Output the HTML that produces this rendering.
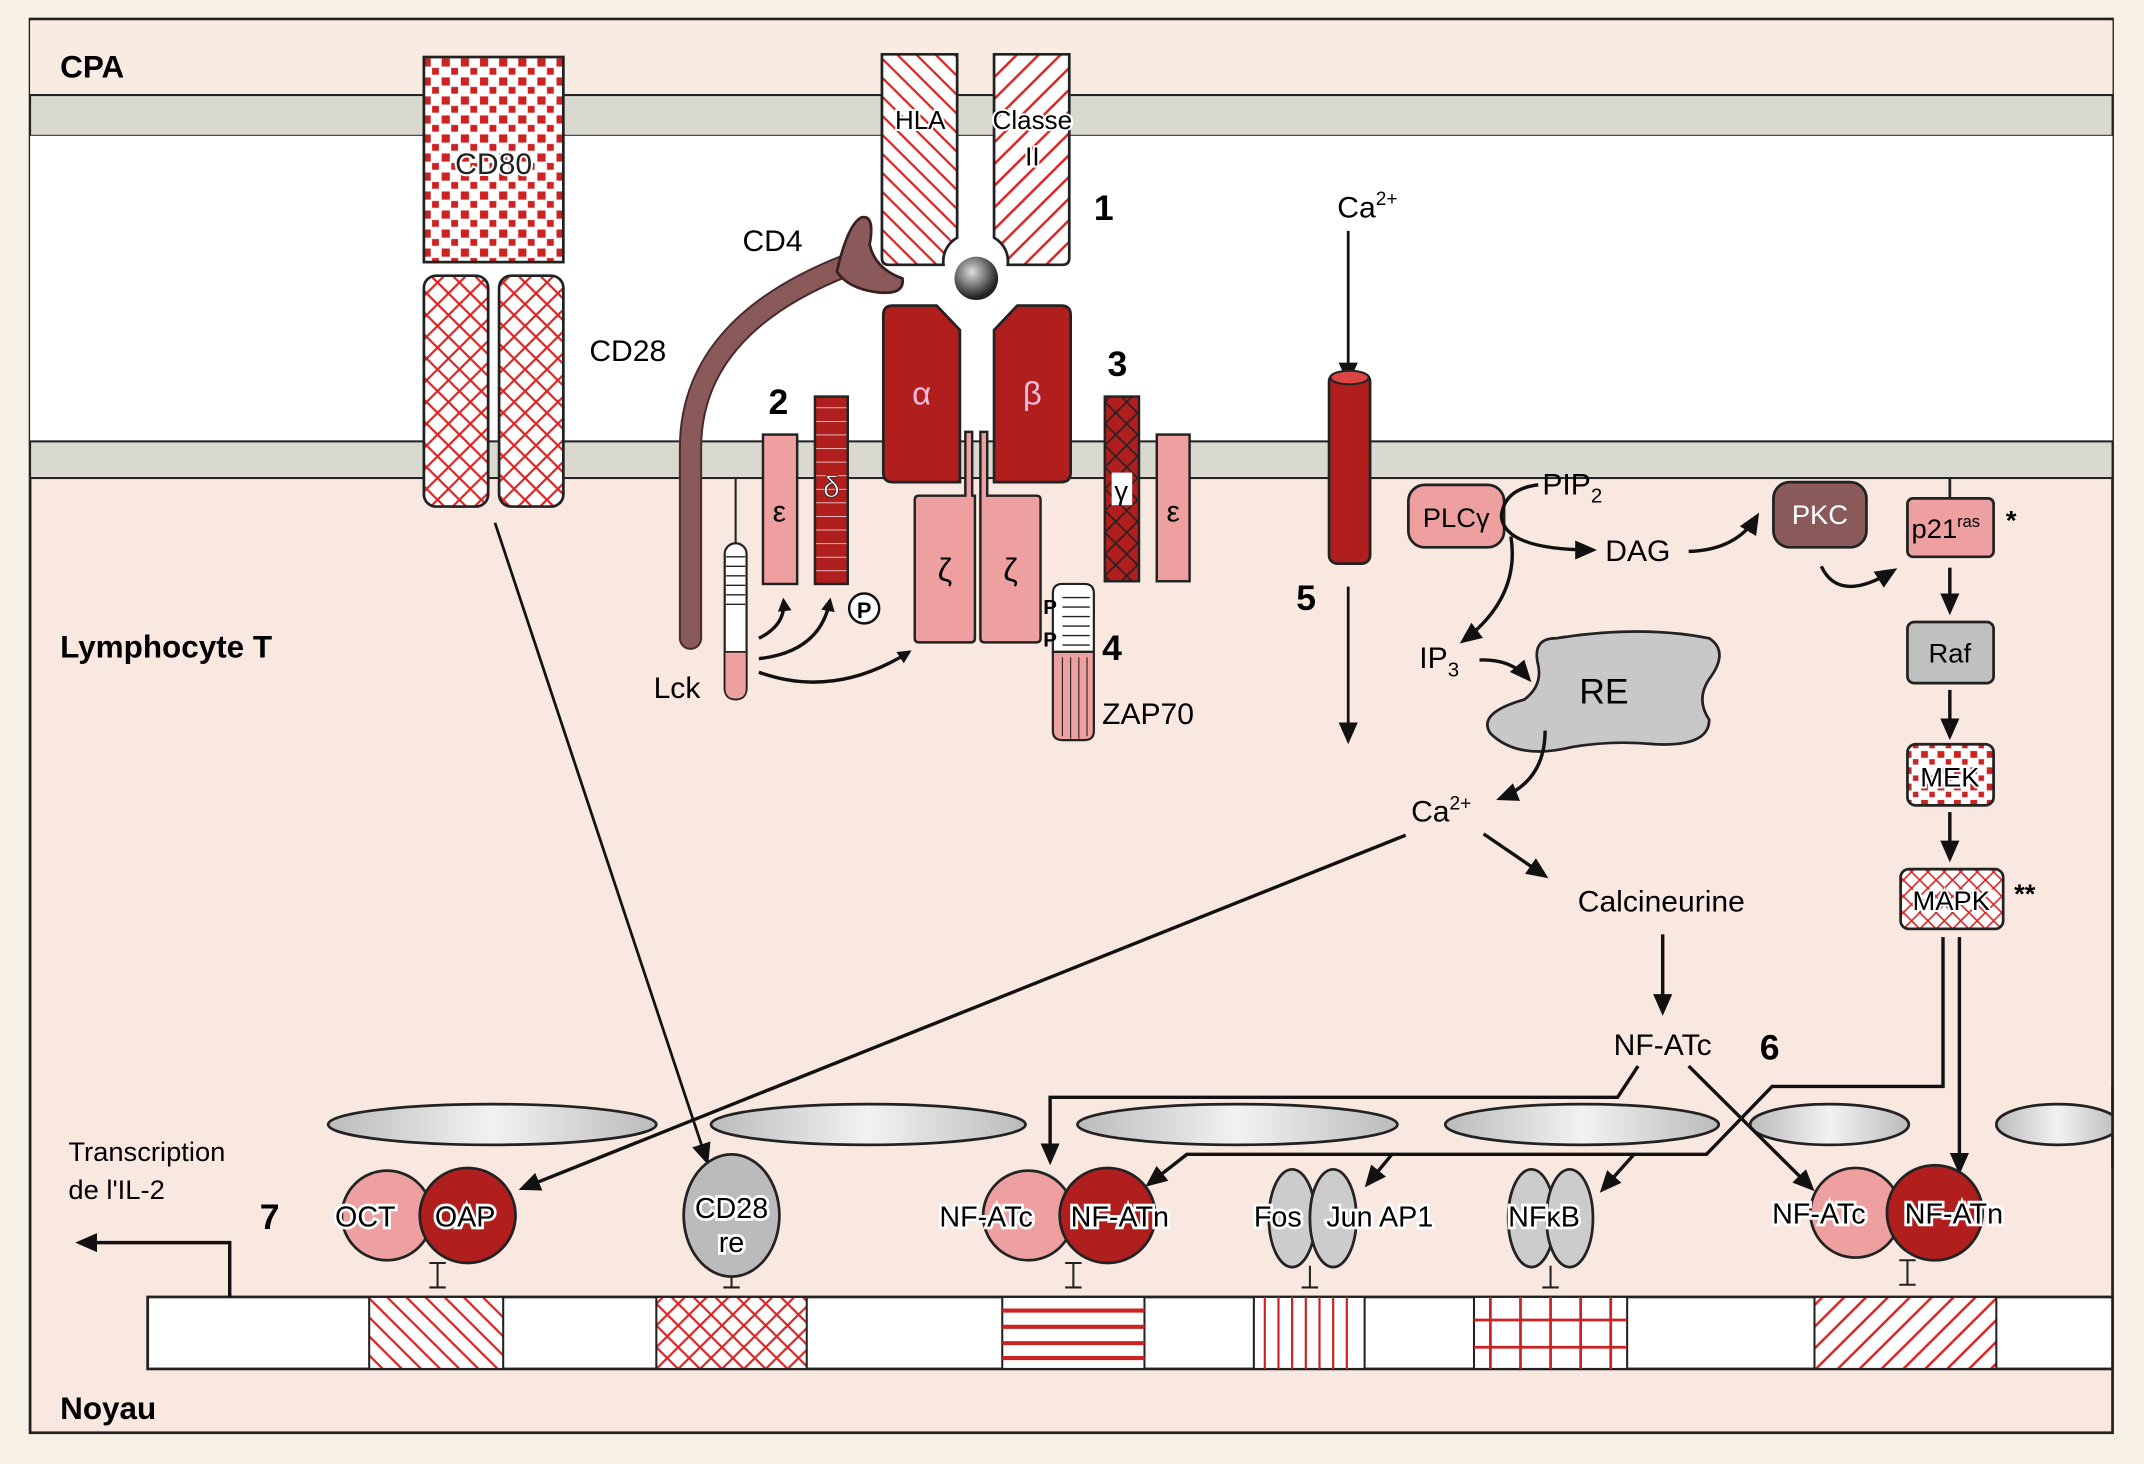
<!DOCTYPE html>
<html><head><meta charset="utf-8"><style>
html,body{margin:0;padding:0;background:#f8f1e6}
svg{display:block}
text{font-family:"Liberation Sans",sans-serif}
</style></head><body>
<svg width="2144" height="1464" viewBox="0 0 1568 1078" preserveAspectRatio="none" xmlns="http://www.w3.org/2000/svg">
<defs>
<pattern id="sq" width="14" height="14" patternUnits="userSpaceOnUse"><rect width="14" height="14" fill="#fff"/><rect x="1" y="1" width="6" height="6" fill="#c22"/><rect x="8" y="8" width="5" height="5" fill="#c22"/></pattern>
<pattern id="diam" width="16" height="16" patternUnits="userSpaceOnUse"><rect width="16" height="16" fill="#fff"/><path d="M0 0L16 16M16 0L0 16" stroke="#d22" stroke-width="1.6"/></pattern>
<pattern id="diagb" width="14" height="14" patternUnits="userSpaceOnUse"><rect width="14" height="14" fill="#fff"/><path d="M0 0L14 14M-7 7L7 21M7 -7L21 7" stroke="#d22" stroke-width="1.6"/></pattern>
<pattern id="diagf" width="16" height="16" patternUnits="userSpaceOnUse"><rect width="16" height="16" fill="#fff"/><path d="M0 16L16 0M-8 8L8 -8M8 24L24 8" stroke="#d22" stroke-width="1.8"/></pattern>
<pattern id="gx" width="16" height="16" patternUnits="userSpaceOnUse"><rect width="16" height="16" fill="#b01e1e"/><path d="M0 0L16 16M16 0L0 16" stroke="#222" stroke-width="1.2"/></pattern>
<pattern id="hs" width="10" height="10" patternUnits="userSpaceOnUse"><rect width="10" height="10" fill="#b01e1e"/><path d="M0 0H10" stroke="#fff" stroke-width="1"/></pattern>
<pattern id="mek" width="12" height="12" patternUnits="userSpaceOnUse"><rect width="12" height="12" fill="#fff"/><rect x="1" y="1" width="5" height="5" fill="#c22"/><rect x="7" y="7" width="4" height="4" fill="#c22"/></pattern>
<pattern id="mapk" width="12" height="12" patternUnits="userSpaceOnUse"><rect width="12" height="12" fill="#fff"/><path d="M0 0L12 12M12 0L0 12" stroke="#d22" stroke-width="1.2"/></pattern>
<marker id="ar" markerWidth="10" markerHeight="10" refX="8" refY="5" orient="auto" markerUnits="userSpaceOnUse"><path d="M0 0L10 5L0 10z" fill="#111"/></marker>
<marker id="arb" markerWidth="16" markerHeight="14" refX="13" refY="7" orient="auto" markerUnits="userSpaceOnUse"><path d="M0 0L16 7L0 14z" fill="#111"/></marker>
<radialGradient id="ball" cx="40%" cy="35%" r="60%"><stop offset="0" stop-color="#ddd"/><stop offset="1" stop-color="#222"/></radialGradient>
<linearGradient id="ell" x1="0" x2="1"><stop offset="0" stop-color="#bbb"/><stop offset="0.5" stop-color="#f2f2f2"/><stop offset="1" stop-color="#bbb"/></linearGradient>
</defs>
<rect width="1568" height="1078" fill="#f8f1e6"/>
<rect x="22" y="14" width="1523" height="1041" fill="#f9e8e0" stroke="#222" stroke-width="2"/>
<rect x="22" y="15" width="1523" height="55" fill="#f8ece2"/>
<rect x="22" y="70" width="1523" height="30" fill="#d9d9d0" stroke="#222" stroke-width="1.5"/>
<rect x="22" y="100" width="1523" height="225" fill="#fff"/>
<rect x="22" y="325" width="1523" height="27" fill="#d9d9d0" stroke="#222" stroke-width="1.5"/>
<text x="44" y="57" font-size="23" font-weight="bold">CPA</text>
<text x="44" y="484" font-size="23" font-weight="bold">Lymphocyte T</text>
<text x="44" y="1045" font-size="23" font-weight="bold">Noyau</text>
<!-- CD80 -->
<rect x="310" y="42" width="102" height="151" fill="url(#sq)" stroke="#222" stroke-width="2"/>
<text x="361" y="128" font-size="22" text-anchor="middle" fill="#222" stroke="#fff" stroke-width="3" paint-order="stroke">CD80</text>
<rect x="310" y="203" width="47" height="170" rx="9" fill="url(#diam)" stroke="#222" stroke-width="2"/>
<rect x="365" y="203" width="47" height="170" rx="9" fill="url(#diam)" stroke="#222" stroke-width="2"/>
<text x="431" y="266" font-size="22">CD28</text>
<!-- HLA -->
<path d="M645 40H700V175A20 20 0 0 0 690 195H650Q645 195 645 190Z" fill="url(#diagb)" stroke="#222" stroke-width="2"/>
<path d="M727 40H782V190Q782 195 777 195H737A20 20 0 0 0 727 175Z" fill="url(#diagf)" stroke="#222" stroke-width="2"/>
<text x="673" y="95" font-size="19" text-anchor="middle" stroke="#fff" stroke-width="3" paint-order="stroke">HLA</text>
<text x="755" y="95" font-size="19" text-anchor="middle" stroke="#fff" stroke-width="3" paint-order="stroke">Classe</text>
<text x="755" y="122" font-size="19" text-anchor="middle" stroke="#fff" stroke-width="3" paint-order="stroke">II</text>
<circle cx="714" cy="205" r="16" fill="url(#ball)"/>
<text x="800" y="162" font-size="26" font-weight="900">1</text>
<!-- CD4 -->
<path d="M505 470V330Q505 240 620 195" fill="none" stroke="#4a2a2a" stroke-width="17" stroke-linecap="round"/>
<path d="M505 470V330Q505 240 620 195" fill="none" stroke="#8a5a5a" stroke-width="14" stroke-linecap="round"/>
<path d="M612 200Q620 165 630 160Q640 158 636 180Q640 198 660 205Q662 218 640 215Q620 212 612 200Z" fill="#8a5a5a" stroke="#3a2020" stroke-width="2"/>
<text x="543" y="185" font-size="22">CD4</text>
<!-- alpha beta -->
<path d="M646 232Q646 225 653 225H685L702 243V355H653Q646 355 646 348Z" fill="#b01e1e" stroke="#222" stroke-width="2"/>
<path d="M727 243L744 225H776Q783 225 783 232V348Q783 355 776 355H727Z" fill="#b01e1e" stroke="#222" stroke-width="2"/>
<text x="674" y="298" font-size="24" fill="#fbd" text-anchor="middle" font-family="DejaVu Serif,serif">α</text>
<text x="755" y="298" font-size="24" fill="#fbd" text-anchor="middle" font-family="DejaVu Serif,serif">β</text>
<!-- zeta -->
<path d="M706 318h5v47h2v105q0 3-3 3h-38q-3 0-3-3V368q0-3 3-3h34Z" fill="#eea0a0" stroke="#222" stroke-width="1.8"/>
<path d="M717 318h5v47h36q3 0 3 3v102q0 3-3 3h-38q-3 0-3-3V365h0Z" fill="#eea0a0" stroke="#222" stroke-width="1.8"/>
<text x="691" y="428" font-size="24" text-anchor="middle" font-family="DejaVu Serif,serif">ζ</text>
<text x="739" y="428" font-size="24" text-anchor="middle" font-family="DejaVu Serif,serif">ζ</text>
<!-- epsilon delta -->
<rect x="558" y="320" width="25" height="110" fill="#eea0a0" stroke="#222" stroke-width="1.8"/>
<text x="570" y="384" font-size="22" text-anchor="middle">ε</text>
<rect x="596" y="292" width="24" height="138" fill="url(#hs)" stroke="#222" stroke-width="1.8"/>
<text x="608" y="366" font-size="22" text-anchor="middle" fill="#fff" stroke="#222" stroke-width="0.6">δ</text>
<text x="562" y="305" font-size="26" font-weight="900">2</text>
<rect x="808" y="292" width="25" height="136" fill="url(#gx)" stroke="#222" stroke-width="1.8"/>
<rect x="813" y="348" width="15" height="24" fill="#fff"/>
<text x="820" y="368" font-size="20" text-anchor="middle">γ</text>
<rect x="846" y="320" width="24" height="108" fill="#eea0a0" stroke="#222" stroke-width="1.8"/>
<text x="858" y="384" font-size="22" text-anchor="middle">ε</text>
<text x="810" y="277" font-size="26" font-weight="900">3</text>
<!-- Lck -->
<line x1="538" y1="352" x2="538" y2="402" stroke="#222" stroke-width="1.5"/>
<rect x="530" y="400" width="16" height="115" rx="8" fill="#fff" stroke="#222" stroke-width="1.6"/>
<path d="M530 480h16v27q0 8-8 8t-8-8Z" fill="#eea0a0" stroke="#222" stroke-width="1.2"/>
<path d="M531 410h14M531 417h14M531 424h14M531 431h14M531 438h14M531 445h14" stroke="#222" stroke-width="1"/>
<text x="478" y="514" font-size="22">Lck</text>
<path d="M555 470Q575 460 573 442" fill="none" stroke="#111" stroke-width="2.5" marker-end="url(#ar)"/>
<path d="M555 485Q600 480 607 442" fill="none" stroke="#111" stroke-width="2.5" marker-end="url(#ar)"/>
<path d="M555 495Q610 515 665 480" fill="none" stroke="#111" stroke-width="2.5" marker-end="url(#ar)"/>
<circle cx="632" cy="448" r="11" fill="#fff" stroke="#111" stroke-width="1.8"/>
<text x="632" y="455" font-size="16" font-weight="bold" text-anchor="middle">P</text>
<!-- ZAP70 -->
<path d="M770 437q0-7 7-7h16q7 0 7 7V480H770Z" fill="#fff" stroke="#222" stroke-width="1.6"/>
<path d="M777 440h20M777 447h20M777 454h20M777 461h20M777 468h20M777 475h20" stroke="#222" stroke-width="1"/>
<path d="M770 480h30v58q0 7-7 7h-16q-7 0-7-7Z" fill="#eea0a0" stroke="#222" stroke-width="1.6"/>
<path d="M777 484v58M783 484v60M789 484v60M795 484v58" stroke="#222" stroke-width="0.8"/>
<text x="763" y="452" font-size="15" font-weight="bold">P</text>
<text x="763" y="476" font-size="15" font-weight="bold">P</text>
<text x="806" y="486" font-size="26" font-weight="900">4</text>
<text x="806" y="533" font-size="22">ZAP70</text>
<!-- Ca channel -->
<text x="978" y="160" font-size="22">Ca<tspan font-size="14" dy="-9">2+</tspan></text>
<line x1="986" y1="170" x2="986" y2="280" stroke="#111" stroke-width="2" marker-end="url(#arb)"/>
<rect x="972" y="275" width="30" height="140" rx="6" fill="#b01e1e" stroke="#222" stroke-width="2"/>
<ellipse cx="987" cy="278" rx="14" ry="5" fill="#d44" stroke="#222" stroke-width="1.5"/>
<text x="948" y="449" font-size="26" font-weight="900">5</text>
<line x1="986" y1="432" x2="986" y2="545" stroke="#111" stroke-width="2" marker-end="url(#arb)"/>
<!-- PLC etc -->
<rect x="1030" y="357" width="70" height="46" rx="12" fill="#eea0a0" stroke="#222" stroke-width="2"/>
<text x="1065" y="388" font-size="20" text-anchor="middle">PLCγ</text>
<text x="1128" y="364" font-size="22">PIP<tspan font-size="15" dy="6">2</tspan></text>
<path d="M1125 357Q1100 360 1098 380Q1100 405 1165 405" fill="none" stroke="#111" stroke-width="2.5" marker-end="url(#arb)"/>
<text x="1174" y="413" font-size="22">DAG</text>
<path d="M1235 406Q1270 405 1285 380" fill="none" stroke="#111" stroke-width="2.5" marker-end="url(#arb)"/>
<rect x="1297" y="355" width="68" height="48" rx="12" fill="#8a5a5a" stroke="#222" stroke-width="2"/>
<text x="1331" y="386" font-size="20" text-anchor="middle" fill="#fff">PKC</text>
<line x1="1426" y1="352" x2="1426" y2="367" stroke="#222" stroke-width="2"/>
<rect x="1395" y="367" width="63" height="43" rx="4" fill="#eea0a0" stroke="#222" stroke-width="2"/>
<text x="1398" y="396" font-size="20">p21<tspan font-size="12" dy="-8">ras</tspan></text>
<text x="1467" y="390" font-size="20" font-weight="bold">*</text>
<path d="M1332 417Q1345 445 1385 420" fill="none" stroke="#111" stroke-width="2.5" marker-end="url(#arb)"/>
<path d="M1105 395Q1112 440 1070 472" fill="none" stroke="#111" stroke-width="2.5" marker-end="url(#arb)"/>
<text x="1038" y="492" font-size="22">IP<tspan font-size="15" dy="6">3</tspan></text>
<path d="M1082 486Q1105 485 1118 500" fill="none" stroke="#111" stroke-width="2.5" marker-end="url(#arb)"/>
<path d="M1138 470Q1200 460 1250 470Q1265 480 1250 500Q1240 515 1250 530Q1250 550 1210 548Q1180 545 1150 550Q1110 560 1090 540Q1080 525 1115 515Q1128 505 1125 490Q1120 470 1138 470Z" fill="#c8c8c8" stroke="#222" stroke-width="2"/>
<text x="1173" y="518" font-size="26" text-anchor="middle">RE</text>
<path d="M1130 538Q1130 575 1097 588" fill="none" stroke="#111" stroke-width="2.5" marker-end="url(#arb)"/>
<text x="1032" y="605" font-size="22">Ca<tspan font-size="14" dy="-9">2+</tspan></text>
<line x1="1085" y1="614" x2="1130" y2="645" stroke="#111" stroke-width="2.5" marker-end="url(#arb)"/>
<text x="1215" y="671" font-size="22" text-anchor="middle">Calcineurine</text>
<line x1="1216" y1="688" x2="1216" y2="745" stroke="#111" stroke-width="2.5" marker-end="url(#arb)"/>
<text x="1216" y="777" font-size="22" text-anchor="middle">NF-ATc</text>
<text x="1287" y="780" font-size="26" font-weight="900">6</text>
<!-- MAPK cascade -->
<line x1="1426" y1="418" x2="1426" y2="450" stroke="#111" stroke-width="2.5" marker-end="url(#arb)"/>
<rect x="1395" y="458" width="63" height="45" rx="5" fill="#c0c0c0" stroke="#222" stroke-width="2"/>
<text x="1426" y="488" font-size="20" text-anchor="middle">Raf</text>
<line x1="1426" y1="508" x2="1426" y2="542" stroke="#111" stroke-width="2.5" marker-end="url(#arb)"/>
<rect x="1395" y="548" width="63" height="45" rx="6" fill="url(#mek)" stroke="#222" stroke-width="2"/>
<text x="1426" y="579" font-size="20" text-anchor="middle" stroke="#fff" stroke-width="3" paint-order="stroke">MEK</text>
<line x1="1426" y1="598" x2="1426" y2="632" stroke="#111" stroke-width="2.5" marker-end="url(#arb)"/>
<rect x="1390" y="640" width="75" height="44" rx="6" fill="url(#mapk)" stroke="#222" stroke-width="2"/>
<text x="1427" y="670" font-size="20" text-anchor="middle" stroke="#fff" stroke-width="3" paint-order="stroke">MAPK</text>
<text x="1473" y="665" font-size="20" font-weight="bold">**</text>
<!-- long lines -->
<line x1="1028" y1="615" x2="382" y2="875" stroke="#111" stroke-width="2.5" marker-end="url(#arb)"/>
<line x1="362" y1="385" x2="517" y2="855" stroke="#111" stroke-width="2" marker-end="url(#arb)"/>
<!-- nuclear membrane -->
<g stroke="#222" stroke-width="2" fill="url(#ell)">
<ellipse cx="360" cy="828" rx="120" ry="15"/>
<ellipse cx="635" cy="828" rx="115" ry="15"/>
<ellipse cx="905" cy="828" rx="117" ry="15"/>
<ellipse cx="1157" cy="828" rx="100" ry="15"/>
<ellipse cx="1338" cy="828" rx="58" ry="15"/>
<ellipse cx="1505" cy="828" rx="45" ry="15"/>
</g>
<rect x="1546" y="800" width="22" height="60" fill="#f8f1e6"/>
<line x1="1545" y1="800" x2="1545" y2="860" stroke="#222" stroke-width="2"/>
<!-- NF-ATc arrows -->
<path d="M1198 785L1183 808H768V855" fill="none" stroke="#111" stroke-width="2.5" marker-end="url(#arb)"/>
<line x1="1235" y1="785" x2="1325" y2="875" stroke="#111" stroke-width="2.5" marker-end="url(#arb)"/>
<path d="M1421 690V800H1296L1248 850H868L840 872" fill="none" stroke="#111" stroke-width="2.5" marker-end="url(#arb)"/>
<line x1="1018" y1="850" x2="1000" y2="872" stroke="#111" stroke-width="2.5" marker-end="url(#arb)"/>
<line x1="1195" y1="850" x2="1172" y2="876" stroke="#111" stroke-width="2.5" marker-end="url(#arb)"/>
<line x1="1433" y1="690" x2="1433" y2="862" stroke="#111" stroke-width="2.5" marker-end="url(#arb)"/>
<!-- TFs -->
<text x="50" y="855" font-size="20">Transcription</text>
<text x="50" y="883" font-size="20">de l'IL-2</text>
<text x="190" y="905" font-size="26" font-weight="900">7</text>
<g stroke="#222" stroke-width="2">
<circle cx="283" cy="895" r="33" fill="#eea0a0"/>
<circle cx="342" cy="895" r="35" fill="#b01e1e"/>
<ellipse cx="535" cy="895" rx="35" ry="45" fill="#bbb"/>
<circle cx="752" cy="895" r="33" fill="#eea0a0"/>
<circle cx="810" cy="895" r="35" fill="#b01e1e"/>
<ellipse cx="945" cy="897" rx="17" ry="36" fill="#ccc"/>
<ellipse cx="975" cy="897" rx="17" ry="36" fill="#ccc"/>
<ellipse cx="1120" cy="897" rx="17" ry="36" fill="#ccc"/>
<ellipse cx="1148" cy="897" rx="17" ry="36" fill="#ccc"/>
<circle cx="1357" cy="893" r="33" fill="#eea0a0"/>
<circle cx="1415" cy="893" r="35" fill="#b01e1e"/>
</g>
<g font-size="21" stroke="#fff" stroke-width="4" paint-order="stroke">
<text x="245" y="903">OCT</text>
<text x="318" y="903">OAP</text>
<text x="535" y="897" text-anchor="middle">CD28</text>
<text x="535" y="922" text-anchor="middle">re</text>
<text x="687" y="903">NF-ATc</text>
<text x="783" y="903">NF-ATn</text>
<text x="917" y="903">Fos</text>
<text x="970" y="903">Jun AP1</text>
<text x="1103" y="903">NFκB</text>
<text x="1296" y="901">NF-ATc</text>
<text x="1393" y="901">NF-ATn</text>
</g>
<g stroke="#222" stroke-width="1.5">
<path d="M320 930v18M314 930h12M314 948h12"/>
<path d="M535 940v8M529 948h12"/>
<path d="M785 930v18M779 930h12M779 948h12"/>
<path d="M958 932v16M952 948h12"/>
<path d="M1134 932v16M1128 948h12"/>
<path d="M1395 928v18M1389 928h12M1389 946h12"/>
</g>
<!-- DNA -->
<rect x="108" y="955" width="1437" height="53" fill="#fff" stroke="#222" stroke-width="2"/>
<rect x="270" y="955" width="98" height="53" fill="url(#diagb)" stroke="#222" stroke-width="1.5"/>
<rect x="480" y="955" width="110" height="53" fill="url(#diam)" stroke="#222" stroke-width="1.5"/>
<rect x="733" y="955" width="104" height="53" fill="#fff" stroke="#222" stroke-width="1.5"/>
<path d="M733 965H837M733 977H837M733 989H837M733 1000H837" stroke="#c22" stroke-width="3"/>
<rect x="917" y="955" width="81" height="53" fill="#fff" stroke="#222" stroke-width="1.5"/>
<path d="M925 955v53M935 955v53M945 955v53M955 955v53M965 955v53M975 955v53M985 955v53" stroke="#c22" stroke-width="1.6"/>
<rect x="1078" y="955" width="112" height="53" fill="#fff" stroke="#222" stroke-width="1.5"/>
<path d="M1078 972H1190M1078 992H1190M1090 955v53M1112 955v53M1134 955v53M1156 955v53M1178 955v53" stroke="#c22" stroke-width="2"/>
<rect x="1327" y="955" width="133" height="53" fill="url(#diagf)" stroke="#222" stroke-width="1.5"/>
<path d="M168 955V915H58" fill="none" stroke="#111" stroke-width="2.5" marker-end="url(#arb)"/>
</svg>
</body></html>
